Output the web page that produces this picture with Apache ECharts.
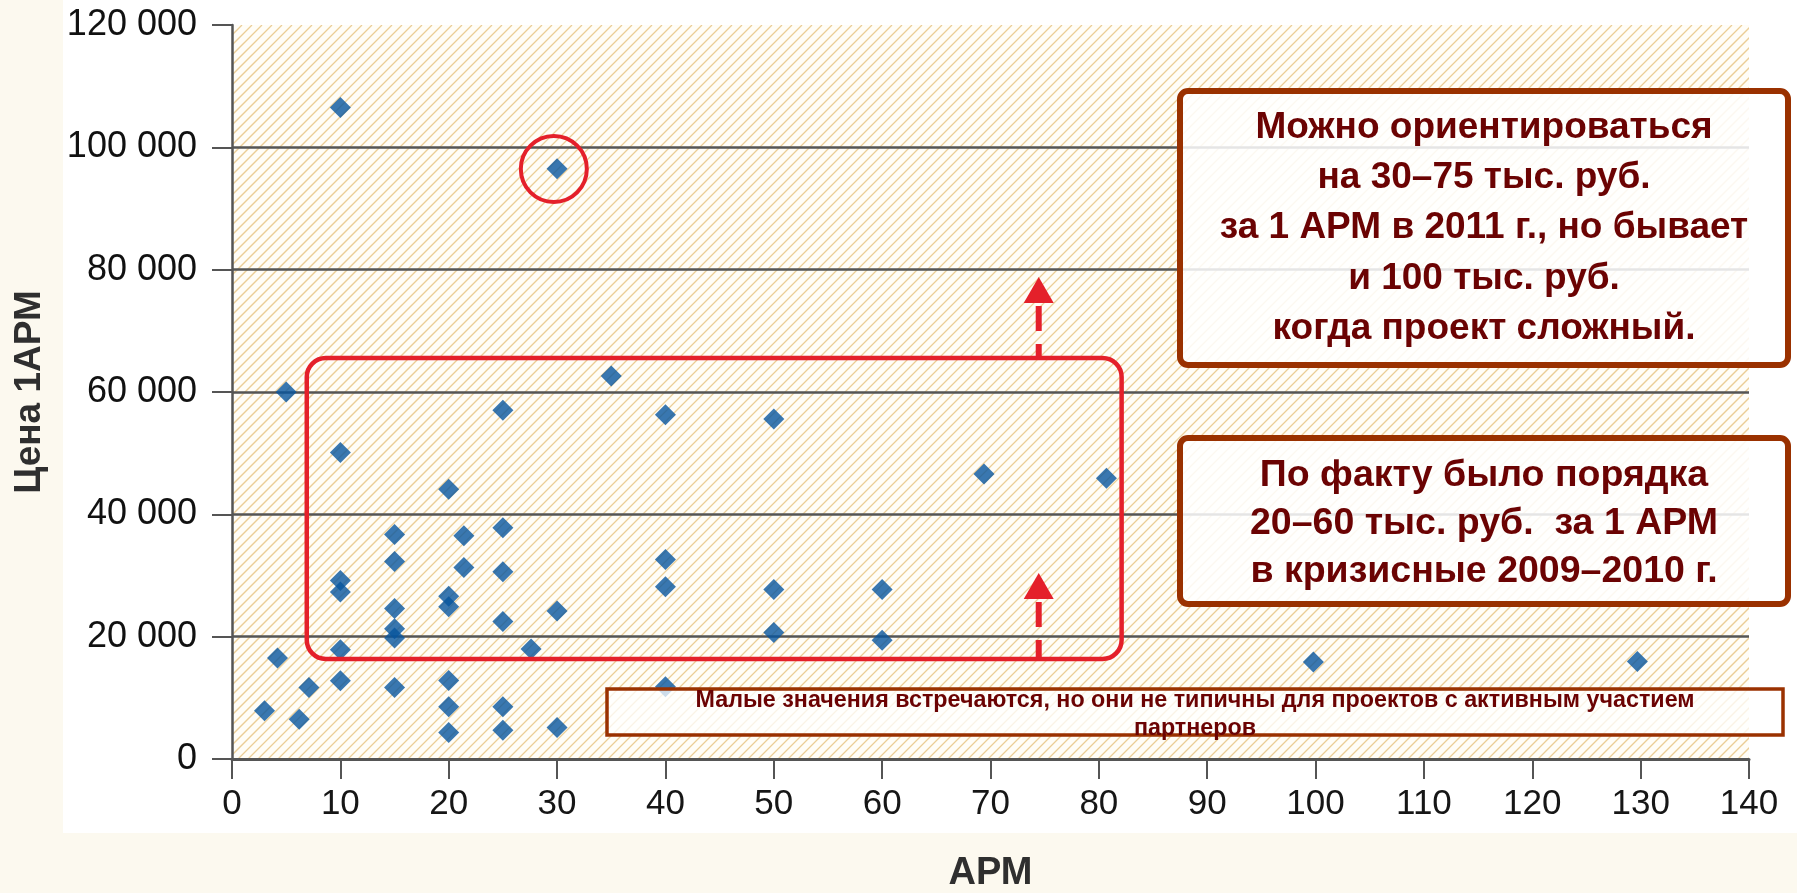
<!DOCTYPE html>
<html>
<head>
<meta charset="utf-8">
<script src="https://cdn.jsdelivr.net/npm/echarts@6/dist/echarts.min.js"></script>
<style>
html,body{margin:0;padding:0;background:#fcf9ef;}
#c{width:1797px;height:893px;}
</style>
</head>
<body>
<div id="c"></div>
<script>
// ---- data ----
const apmValues = [10, 30, 5, 35, 25, 40, 50, 10, 20, 69.4, 80.7,
  15, 21.4, 25, 15, 21.4, 25, 40,
  10, 10, 40, 50, 60, 20, 20, 15, 30, 25, 15, 15, 50, 60,
  10, 27.6, 4.2, 40, 10, 20, 7.1, 15,
  3, 6.2, 20, 25, 20, 25, 30, 99.8, 129.7];
const priceValues = [106500, 96500, 60000, 62600, 57000, 56300, 55600, 50100, 44100, 46600, 45900,
  36700, 36500, 37800, 32300, 31300, 30600, 32600,
  29200, 27300, 28150, 27700, 27700, 26600, 24900, 24600, 24200, 22500, 21300, 19800, 20700, 19400,
  17850, 18000, 16500, 11800, 12800, 12850, 11700, 11700,
  7900, 6500, 8550, 8550, 4350, 4700, 5150, 15850, 15950];
const xTickRange = [0, 140, 10];       // min, max, interval
const yTickRange = [0, 120000, 20000];
const xTitle = 'АРМ';
const yTitle = 'Цена 1АРМ';
// annotation anchors in data units
const typicalRange = [6.9, 65560, 82.1, 16350];   // x1, yTop, x2, yBottom
const outlierPoint = [29.7, 96460];
const arrowX = 74.45;
const arrowTips = [78800, 30400];
const noteTop = ['Можно ориентироваться', 'на 30–75 тыс. руб.', 'за 1 АРМ в 2011 г., но бывает', 'и 100 тыс. руб.', 'когда проект сложный.'];
const noteMid = ['По факту было порядка', '20–60 тыс. руб.  за 1 АРМ', 'в кризисные 2009–2010 г.'];
const noteLow = ['Малые значения встречаются, но они не типичны для проектов с активным участием', 'партнеров'];

const points = apmValues.map((x, i) => [x, priceValues[i]]);
const FONT = '"Liberation Sans", Arial, Helvetica, sans-serif';
const fmt = v => String(v).replace(/\B(?=(\d{3})+(?!\d))/g, ' ');

const chart = echarts.init(document.getElementById('c'), null, {renderer: 'canvas'});
chart.setOption({
  backgroundColor: '#fcf9ef',
  animation: false,
  grid: {left: 232, right: 48, top: 25, bottom: 134, containLabel: false, outerBoundsMode: 'none'},
  xAxis: {
    type: 'value', min: xTickRange[0], max: xTickRange[1], interval: xTickRange[2],
    name: xTitle, nameLocation: 'middle', nameGap: 96,
    nameTextStyle: {fontFamily: FONT, fontWeight: 'bold', fontSize: 38, color: '#2f2f2f'},
    axisLine: {show: true, lineStyle: {color: '#555', width: 3}},
    axisTick: {show: true, length: 20, lineStyle: {color: '#555', width: 2}},
    axisLabel: {margin: 28, fontFamily: FONT, fontSize: 35, color: '#161616', showMinLabel: true, showMaxLabel: true},
    splitLine: {show: false}
  },
  yAxis: {
    type: 'value', min: yTickRange[0], max: yTickRange[1], interval: yTickRange[2],
    name: yTitle, nameLocation: 'middle', nameGap: 184,
    nameTextStyle: {fontFamily: FONT, fontWeight: 'bold', fontSize: 37, color: '#2f2f2f'},
    axisLine: {show: true, lineStyle: {color: '#555', width: 2.5}},
    axisTick: {show: true, length: 20, lineStyle: {color: '#555', width: 2}},
    axisLabel: {margin: 35, fontFamily: FONT, fontSize: 36, color: '#111111', formatter: fmt},
    splitLine: {show: true, showMaxLine: false, lineStyle: {color: '#555', width: 2.5}}
  },
  series: [{
    type: 'scatter', data: points, symbol: 'diamond', symbolSize: 21,
    itemStyle: {color: '#07559d'}, z: 3
  }]
});

function px(p) { return chart.convertToPixel({gridIndex: 0}, p); }

const tl = px([xTickRange[0], yTickRange[1]]);
const br = px([xTickRange[1], yTickRange[0]]);
const pw = Math.round(br[0] - tl[0]), ph = Math.round(br[1] - tl[1]);
const cv = document.createElement('canvas');
cv.width = pw; cv.height = ph;
const ctx = cv.getContext('2d');
ctx.fillStyle = '#fffdf7'; ctx.fillRect(0, 0, pw, ph);
ctx.strokeStyle = '#ebcd96'; ctx.lineWidth = 1.3;
for (let k = -ph; k < pw + 10; k += 10) {
  ctx.beginPath(); ctx.moveTo(k, ph); ctx.lineTo(k + ph, 0); ctx.stroke();
}

const r1 = px([typicalRange[0], typicalRange[1]]);
const r2 = px([typicalRange[2], typicalRange[3]]);
const oc = px(outlierPoint);
const RED = '#e4202a';
const elements = [
  {type: 'rect', z: -30, silent: true, shape: {x: 63, y: 0, width: 1797 - 63, height: 833}, style: {fill: '#ffffff'}},
  {type: 'image', z: -20, silent: true, style: {image: cv, x: tl[0], y: tl[1], width: pw, height: ph}},
  {type: 'rect', z: 20, silent: true, shape: {x: r1[0], y: r1[1], width: r2[0] - r1[0], height: r2[1] - r1[1], r: 19},
    style: {fill: 'none', stroke: RED, lineWidth: 4.5}},
  {type: 'circle', z: 20, silent: true, shape: {cx: oc[0], cy: oc[1], r: 33}, style: {fill: 'none', stroke: RED, lineWidth: 4}}
];
const edges = [r1[1], r2[1]];
arrowTips.forEach((t, i) => {
  const tip = px([arrowX, t]);
  const x = tip[0], ty = tip[1], by = ty + 26;
  elements.push({type: 'polygon', z: 20, silent: true, shape: {points: [[x, ty], [x - 15, by], [x + 15, by]]}, style: {fill: RED}});
  elements.push({type: 'line', z: 20, silent: true, shape: {x1: x, y1: by + 3, x2: x, y2: edges[i]},
    style: {stroke: RED, lineWidth: 6, lineDash: [25, 13]}});
});
function box(x, y, w, h, lw, r, fill) {
  return {type: 'rect', z: 30, silent: true, shape: {x, y, width: w, height: h, r}, style: {fill, stroke: '#9a3100', lineWidth: lw}};
}
function txt(lines, cx, cy, size, lh, z) {
  return {type: 'text', z: z || 31, silent: true, style: {text: lines.join('\n'), x: cx, y: cy, align: 'center', verticalAlign: 'middle',
    font: 'bold ' + size + 'px ' + FONT, fill: '#6b0303', lineHeight: lh}};
}
elements.push(box(1180, 91, 608, 274, 6, 8, 'rgba(255,255,255,0.85)'));
elements.push(txt(noteTop, 1484, 228, 37, 50.3));
elements.push(box(1180, 438, 608, 166, 6, 8, 'rgba(255,255,255,0.85)'));
elements.push(txt(noteMid, 1484, 524, 37.5, 48));
elements.push(box(607, 689, 1176, 46, 3.5, 0, 'rgba(255,255,255,0.75)'));
elements.push(txt(noteLow, 1195, 715, 23.3, 28, 32));

chart.setOption({graphic: {elements}});
</script>
</body>
</html>
